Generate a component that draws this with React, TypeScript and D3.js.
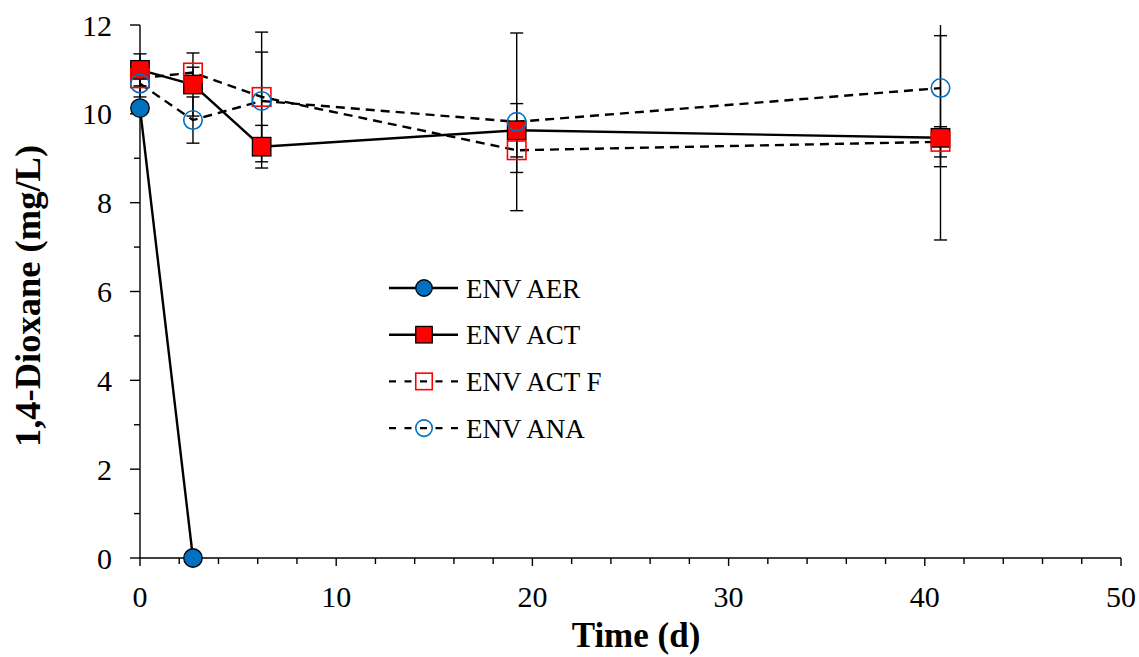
import React from "react";
import * as d3 from "d3";

// Data
const timeDays = [0, 2.7, 6.2, 19.2, 40.8];

const aerTimes = [0, 2.7];
const aerValues = [10.13, 0];
const aerErrors = [0, 0];

const actValues = [10.99, 10.66, 9.26, 9.63, 9.46];
const actErrors = [0.36, 0.71, 0.48, 0.6, 2.3];

const actFValues = [10.8, 10.93, 10.38, 9.18, 9.37];
const actFErrors = [0.2, 0.12, 1.46, 0.5, 0.34];

const anaValues = [10.68, 9.86, 10.29, 9.82, 10.58];
const anaErrors = [0.3, 0.52, 1.1, 2.0, 1.77];

const xTicks = [0, 10, 20, 30, 40, 50];
const yTicks = [0, 2, 4, 6, 8, 10, 12];

const BLUE = "#0070C0";
const RED = "#FF0000";

type Series = {
  name: string;
  xs: number[];
  ys: number[];
  errs: number[];
  marker: "circle" | "square";
  filled: boolean;
  color: string;
  dashed: boolean;
};

const series: Series[] = [
  { name: "ENV AER", xs: aerTimes, ys: aerValues, errs: aerErrors, marker: "circle", filled: true, color: BLUE, dashed: false },
  { name: "ENV ACT", xs: timeDays, ys: actValues, errs: actErrors, marker: "square", filled: true, color: RED, dashed: false },
  { name: "ENV ACT F", xs: timeDays, ys: actFValues, errs: actFErrors, marker: "square", filled: false, color: RED, dashed: true },
  { name: "ENV ANA", xs: timeDays, ys: anaValues, errs: anaErrors, marker: "circle", filled: false, color: BLUE, dashed: true },
];

const W = 1139;
const H = 657;
const left = 140;
const right = 1121;
const top = 25;
const bottom = 558;

const FONT = "'Liberation Serif', 'Times New Roman', serif";

function Marker({ s, cx, cy, size }: { s: Series; cx: number; cy: number; size: number }) {
  const fill = s.filled ? s.color : "none";
  const stroke = s.filled ? "#000" : s.color;
  const sw = s.filled ? 1.3 : 1.6;
  if (s.marker === "circle") {
    return <circle cx={cx} cy={cy} r={size / 2} fill={fill} stroke={stroke} strokeWidth={sw} />;
  }
  return (
    <rect x={cx - size / 2} y={cy - size / 2} width={size} height={size} fill={fill} stroke={stroke} strokeWidth={sw} />
  );
}

export default function App() {
  const x = d3.scaleLinear().domain([0, 50]).range([left, right]);
  const y = d3.scaleLinear().domain([0, 12]).range([bottom, top]);
  const line = d3
    .line<[number, number]>()
    .x((d) => x(d[0]))
    .y((d) => y(d[1]));

  const xMinor = d3.range(0, 51, 2).filter((v) => v % 10 !== 0);
  const yMinor = d3.range(1, 12, 2);

  const legendY0 = 288;
  const legendStep = 46.7;

  return (
    <svg
      width={W}
      height={H}
      style={{ position: "absolute", left: 0, top: 0, background: "#fff" }}
      fontFamily={FONT}
    >
      <defs>
        <clipPath id="plotClip">
          <rect x={left - 20} y={top} width={right - left + 40} height={bottom - top + 20} />
        </clipPath>
      </defs>

      {/* Error bars */}
      <g clipPath="url(#plotClip)" stroke="#000" strokeWidth={1.4}>
        {series.map((s) =>
          s.xs.map((t, i) =>
            s.errs[i] > 0 ? (
              <g key={s.name + i}>
                <line x1={x(t)} x2={x(t)} y1={y(s.ys[i] + s.errs[i])} y2={y(s.ys[i] - s.errs[i])} />
                <line x1={x(t) - 6.5} x2={x(t) + 6.5} y1={y(s.ys[i] + s.errs[i])} y2={y(s.ys[i] + s.errs[i])} />
                <line x1={x(t) - 6.5} x2={x(t) + 6.5} y1={y(s.ys[i] - s.errs[i])} y2={y(s.ys[i] - s.errs[i])} />
              </g>
            ) : null
          )
        )}
      </g>

      {/* Axes */}
      <g stroke="#000" strokeWidth={1.4}>
        <line x1={left} x2={left} y1={top} y2={bottom} />
        <line x1={left} x2={right} y1={bottom} y2={bottom} />
        {xTicks.map((v) => (
          <line key={"xt" + v} x1={x(v)} x2={x(v)} y1={bottom} y2={bottom + 8} />
        ))}
        {xMinor.map((v) => (
          <line key={"xm" + v} x1={x(v)} x2={x(v)} y1={bottom} y2={bottom + 6} />
        ))}
        {yTicks.map((v) => (
          <line key={"yt" + v} x1={left - 10} x2={left} y1={y(v)} y2={y(v)} />
        ))}
        {yMinor.map((v) => (
          <line key={"ym" + v} x1={left - 6} x2={left} y1={y(v)} y2={y(v)} />
        ))}
      </g>

      {/* Lines */}
      {series.map((s) => (
        <path
          key={"l" + s.name}
          d={line(s.xs.map((t, i) => [t, s.ys[i]] as [number, number])) || ""}
          fill="none"
          stroke="#000"
          strokeWidth={2.4}
          strokeDasharray={s.dashed ? "9,6" : undefined}
        />
      ))}

      {/* Markers */}
      {series.map((s) =>
        s.xs.map((t, i) => <Marker key={s.name + "m" + i} s={s} cx={x(t)} cy={y(s.ys[i])} size={18.5} />)
      )}

      {/* Tick labels */}
      {xTicks.map((v) => (
        <text key={"xl" + v} x={x(v)} y={607} fontSize={30} textAnchor="middle" fill="#000">
          {v}
        </text>
      ))}
      {yTicks.map((v) => (
        <text key={"yl" + v} x={112} y={y(v) + 10.5} fontSize={30} textAnchor="end" fill="#000">
          {v}
        </text>
      ))}

      {/* Axis titles */}
      <text x={636} y={647} fontSize={35} fontWeight="bold" textAnchor="middle" fill="#000">
        Time (d)
      </text>
      <text
        transform={`translate(40, 296) rotate(-90)`}
        fontSize={36.5}
        fontWeight="bold"
        textAnchor="middle"
        fill="#000"
      >
        1,4-Dioxane (mg/L)
      </text>

      {/* Legend */}
      {series.map((s, i) => {
        const ly = legendY0 + i * legendStep;
        return (
          <g key={"lg" + s.name}>
            <line
              x1={389}
              x2={458}
              y1={ly}
              y2={ly}
              stroke="#000"
              strokeWidth={2.4}
              strokeDasharray={s.dashed ? "7,8.5" : undefined}
            />
            <Marker s={s} cx={424} cy={ly} size={16.5} />
            <text x={466} y={ly + 9.5} fontSize={27} fill="#000">
              {s.name}
            </text>
          </g>
        );
      })}
    </svg>
  );
}
